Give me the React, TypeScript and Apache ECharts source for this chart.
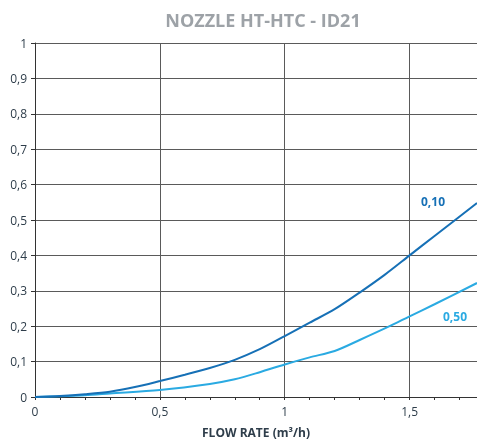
import React, { useEffect, useRef } from "react";
import * as echarts from "echarts";

const flowDark = [0, 0.1, 0.2, 0.3, 0.4, 0.5, 0.6, 0.7, 0.8, 0.9, 1.0, 1.1, 1.2, 1.3, 1.4, 1.5, 1.6, 1.77];
const lossDark = [0, 0.003, 0.008, 0.015, 0.028, 0.045, 0.063, 0.082, 0.105, 0.135, 0.172, 0.21, 0.248, 0.295, 0.345, 0.4, 0.455, 0.548];
const flowLight = [0, 0.1, 0.2, 0.3, 0.5, 0.7, 0.8, 0.9, 1.0, 1.1, 1.2, 1.3, 1.42, 1.5, 1.6, 1.77];
const lossLight = [0, 0.002, 0.005, 0.01, 0.02, 0.037, 0.05, 0.07, 0.092, 0.112, 0.13, 0.161, 0.2, 0.228, 0.262, 0.322];
const seriesNames = ["0,10", "0,50"];
const seriesColors = ["#1670b6", "#2aaae2"];

const fmt = (v: number) => {
  const r = Math.round(v * 10) / 10;
  return String(r).replace(".", ",");
};

export default function App() {
  const ref = useRef<HTMLDivElement>(null);
  useEffect(() => {
    if (!ref.current) return;
    const chart = echarts.init(ref.current, undefined, { renderer: "svg" });
    const textColor = "#2e3d4a";
    chart.setOption({
      animation: false,
      title: {
        text: "NOZZLE HT-HTC - ID21",
        left: 258,
        top: 6,
        textAlign: "center",
        textStyle: { fontFamily: "Open Sans", fontWeight: "bold", fontSize: 18, color: "#9da2a7" },
      },
      grid: { left: 35, right: 0, top: 43, bottom: 44, containLabel: false, outerBoundsMode: "none" },
      xAxis: {
        type: "value",
        min: 0,
        max: 1.77,
        interval: 0.5,
        name: "FLOW RATE (m³/h)",
        nameLocation: "middle",
        nameGap: 29,
        nameTextStyle: { fontFamily: "Open Sans", fontWeight: "bold", fontSize: 12, color: textColor },
        axisLine: { show: true, lineStyle: { color: "#333", width: 1 } },
        axisTick: { show: true, length: 3, lineStyle: { color: "#333" } },
        minorTick: { show: true, splitNumber: 5, length: 3, lineStyle: { color: "#333" } },
        axisLabel: {
          fontFamily: "Open Sans",
          fontSize: 12,
          color: textColor,
          margin: 8,
          showMaxLabel: false,
          formatter: (v: number) => (v > 1.7 ? "" : fmt(v)),
        },
        splitLine: { show: true, lineStyle: { color: "#5a5a5a", width: 1 } },
      },
      yAxis: {
        type: "value",
        min: 0,
        max: 1,
        interval: 0.1,
        axisLine: { show: true, lineStyle: { color: "#333", width: 1 } },
        axisTick: { show: true, length: 4, lineStyle: { color: "#333" } },
        axisLabel: { fontFamily: "Open Sans", fontSize: 12, color: textColor, margin: 8, formatter: fmt },
        splitLine: { show: true, lineStyle: { color: "#5a5a5a", width: 1 } },
      },
      series: [
        {
          name: seriesNames[0],
          type: "line",
          data: flowDark.map((x, i) => [x, lossDark[i]]),
          smooth: 0.3,
          showSymbol: false,
          lineStyle: { color: seriesColors[0], width: 2 },
          z: 3,
        },
        {
          name: seriesNames[1],
          type: "line",
          data: flowLight.map((x, i) => [x, lossLight[i]]),
          smooth: 0.3,
          showSymbol: false,
          lineStyle: { color: seriesColors[1], width: 2 },
          z: 2,
        },
      ],
      graphic: [
        {
          type: "text",
          left: 421,
          top: 195,
          style: { text: seriesNames[0], fill: seriesColors[0], font: "bold 12px 'Open Sans'" },
        },
        {
          type: "text",
          left: 443,
          top: 310,
          style: { text: seriesNames[1], fill: seriesColors[1], font: "bold 12px 'Open Sans'" },
        },
      ],
    });
    return () => chart.dispose();
  }, []);
  return <div ref={ref} style={{ position: "fixed", left: 0, top: 0, width: 477, height: 441 }} />;
}
